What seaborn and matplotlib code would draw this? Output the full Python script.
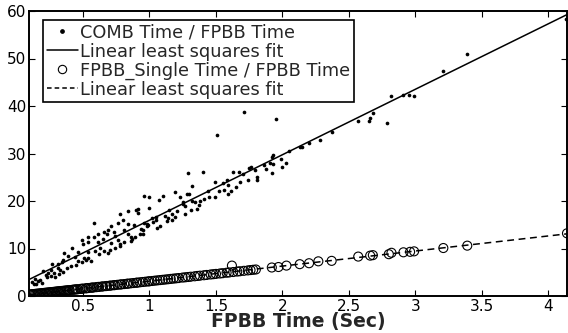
import numpy as np
import pandas as pd
import matplotlib
matplotlib.use("Agg")
import matplotlib.pyplot as plt
import seaborn as sns
from matplotlib.lines import Line2D

sns.set_style("ticks")
plt.rcParams['font.family'] = ['DejaVu Sans']

# ---------------------------------------------------------------------------
# Data (FPBB time in sec vs. time ratios)
# ---------------------------------------------------------------------------

comb_x = [
    4.13, 3.39, 3.21, 2.82, 2.91, 2.95, 2.99, 2.79, 1.95, 2.57, 2.65, 2.66,
    2.68, 2.37, 2.28, 2.20, 2.15, 2.13, 2.05, 1.93, 1.92, 1.91, 1.93, 1.99,
    2.03, 2.00, 1.92, 1.79, 1.81, 1.76, 1.71, 1.51, 1.29, 1.40, 1.32, 1.63,
    1.67, 1.75, 1.81, 1.74, 1.00, 1.10, 1.07, 1.19, 1.23, 1.28, 1.30, 1.25,
    1.25, 1.32, 1.34, 1.38, 1.41, 1.44, 1.49, 1.49, 1.52, 1.55, 1.58, 1.59,
    1.61, 1.65, 1.59, 1.36, 1.31, 1.37, 1.00, 1.15, 1.21, 1.05, 1.12, 1.14,
    1.19, 1.05, 1.03, 0.98, 0.99, 1.02, 1.13, 0.94, 1.08,
    0.96, 0.78, 0.90, 0.91, 0.76, 0.80, 0.84, 0.88, 0.58, 0.96, 0.66, 0.68,
    0.73, 0.74, 0.81, 0.84, 0.76, 0.86, 0.71, 0.65, 0.58, 0.50, 0.54, 0.61,
    0.63, 0.59, 0.54, 0.51, 0.46, 0.42, 0.44, 0.39, 0.36, 0.35, 0.34, 0.31,
    0.31, 0.27, 0.26, 0.24, 0.20, 0.16, 0.19, 0.14, 0.15, 0.29, 0.26, 0.32,
    0.35, 0.38, 0.41, 0.46, 0.49, 0.54, 0.56, 0.66, 0.69, 0.74, 0.78, 0.81,
    0.86, 0.89, 0.93, 0.95, 0.98, 0.71, 0.69, 0.61, 0.54, 0.49, 0.84, 0.91,
    1.86, 1.88, 1.70, 1.17, 1.27, 0.12, 0.22,
    0.45, 0.52, 0.62, 0.70, 0.78, 0.87, 0.95, 1.06, 1.17, 1.27, 0.13, 0.18,
    0.23, 0.28, 0.33, 1.45, 1.56, 1.68,
]
comb_y = [
    58.3, 51.0, 47.4, 42.1, 42.4, 42.4, 42.1, 36.4, 37.3, 36.9, 36.9, 37.4,
    38.6, 34.5, 32.8, 32.3, 31.4, 31.3, 30.5, 29.7, 29.2, 27.9, 27.7, 28.8,
    28.1, 27.1, 26.0, 26.5, 25.1, 27.1, 38.7, 34.0, 25.8, 26.2, 23.2, 26.1,
    26.1, 27.0, 24.4, 24.4, 20.8, 21.1, 20.2, 21.8, 20.8, 21.4, 21.5, 19.8,
    19.4, 20.1, 19.8, 20.1, 20.4, 22.2, 24.0, 20.8, 22.2, 23.7, 24.4, 21.5,
    22.1, 22.9, 23.3, 18.3, 18.2, 19.1, 18.6, 18.2, 17.8, 16.7, 16.9, 16.5,
    16.7, 15.9, 15.5, 15.2, 15.0, 16.4, 15.7, 14.1, 14.8,
    21.0, 17.3, 18.2, 17.4, 15.3, 16.0, 15.2, 15.0, 15.4, 15.3, 13.4, 13.1,
    13.4, 12.7, 13.8, 13.1, 11.8, 12.4, 11.1, 12.0, 12.4, 11.0, 11.3, 11.3,
    10.2, 9.5, 9.2, 8.1, 9.2, 10.2, 8.3, 8.5, 9.0, 7.6, 7.1, 6.8,
    6.0, 6.8, 5.4, 4.9, 5.3, 3.2, 2.8, 3.5, 2.5, 4.0, 4.2, 4.6,
    5.1, 5.9, 6.4, 7.4, 7.1, 8.1, 7.4, 9.5, 9.0, 10.2, 10.6, 11.3,
    11.5, 12.5, 13.1, 13.9, 14.8, 14.8, 13.8, 13.1, 12.4, 11.7, 18.0, 18.4,
    27.5, 26.8, 25.6, 17.2, 18.9, 2.9, 4.4,
    6.5, 7.6, 8.8, 9.6, 10.9, 12.0, 13.0, 14.3, 15.9, 17.3, 2.6, 3.3,
    4.1, 4.8, 5.5, 20.9, 22.3, 24.0,
]

single_x = [
    0.10, 0.11, 0.12, 0.13, 0.14, 0.15, 0.16, 0.17, 0.18, 0.19, 0.20, 0.21,
    0.22, 0.23, 0.24, 0.25, 0.26, 0.27, 0.28, 0.29, 0.30, 0.31, 0.32, 0.33,
    0.34, 0.35, 0.36, 0.37, 0.38, 0.39, 0.40, 0.42, 0.43, 0.44, 0.45, 0.46,
    0.48, 0.49, 0.50, 0.52, 0.53, 0.54, 0.56, 0.57, 0.58, 0.60, 0.61, 0.62,
    0.64, 0.65, 0.67, 0.68, 0.70, 0.71, 0.73, 0.74, 0.76, 0.78, 0.79, 0.81,
    0.83, 0.84, 0.86, 0.88, 0.90, 0.91, 0.93, 0.95, 0.97, 0.99, 1.00, 1.02,
    1.04, 1.06, 1.08, 1.10, 1.12, 1.14, 1.16, 1.18, 1.20, 1.22, 1.25, 1.27,
    1.29, 1.31, 1.34, 1.36, 1.38, 1.41, 1.43, 1.46, 1.48, 1.50, 1.53, 1.55,
    1.58, 1.60, 1.62, 1.63, 1.66, 1.68, 1.71, 1.74, 1.76, 1.78, 1.80,
    1.92, 1.97, 2.03, 2.13, 2.20, 2.27, 2.37, 2.57, 2.66, 2.68, 2.80, 2.82,
    2.91, 2.96, 2.99, 3.21, 3.39, 4.14,
]
single_y = [
    0.30, 0.35, 0.38, 0.40, 0.44, 0.47, 0.50, 0.52, 0.56, 0.60, 0.62, 0.66,
    0.68, 0.72, 0.74, 0.78, 0.80, 0.84, 0.87, 0.90, 0.93, 0.97, 1.00, 1.02,
    1.06, 1.08, 1.12, 1.15, 1.18, 1.21, 1.24, 1.30, 1.34, 1.37, 1.40, 1.42,
    1.49, 1.52, 1.56, 1.61, 1.65, 1.68, 1.74, 1.77, 1.80, 1.86, 1.90, 1.92,
    1.99, 2.02, 2.08, 2.11, 2.17, 2.20, 2.27, 2.30, 2.36, 2.42, 2.45, 2.51,
    2.58, 2.60, 2.67, 2.73, 2.79, 2.82, 2.89, 2.95, 3.01, 3.07, 3.10, 3.16,
    3.23, 3.29, 3.35, 3.41, 3.47, 3.53, 3.60, 3.66, 3.72, 3.78, 3.88, 3.94,
    4.00, 4.06, 4.15, 4.22, 4.28, 4.37, 4.43, 4.53, 4.59, 4.65, 4.74, 4.80,
    4.90, 4.96, 6.40, 5.05, 5.15, 5.21, 5.30, 5.39, 5.46, 5.52, 5.58,
    6.0, 6.1, 6.4, 6.7, 6.9, 7.3, 7.4, 8.3, 8.5, 8.6, 8.8, 9.1,
    9.2, 9.3, 9.4, 10.1, 10.6, 13.2,
]

x_ticks = [0.5, 1, 1.5, 2, 2.5, 3, 3.5, 4]
x_tick_labels = ['0.5', '1', '1.5', '2', '2.5', '3', '3.5', '4']
y_ticks = [0, 10, 20, 30, 40, 50, 60]

comb = pd.DataFrame({'fpbb': comb_x, 'ratio': comb_y})
single = pd.DataFrame({'fpbb': single_x, 'ratio': single_y})

# ---------------------------------------------------------------------------
# Plot
# ---------------------------------------------------------------------------

fig = plt.figure(figsize=(5.68, 3.33), dpi=100)
ax = fig.add_axes([29 / 568, 37 / 333, 538 / 568, 285 / 333])
ax.set_xlim(0.094, 4.14)
ax.set_ylim(0, 60)

sns.scatterplot(data=comb, x='fpbb', y='ratio', ax=ax, color='black',
                marker='o', s=7, edgecolor='black', linewidth=0, zorder=3)
sns.regplot(data=comb, x='fpbb', y='ratio', ax=ax, scatter=False, ci=None,
            truncate=False, line_kws={'color': 'black', 'lw': 1.1, 'zorder': 4})
sns.scatterplot(data=single, x='fpbb', y='ratio', ax=ax, marker='o', s=42,
                facecolor='none', edgecolor='black', linewidth=0.8, zorder=3)
sns.regplot(data=single, x='fpbb', y='ratio', ax=ax, scatter=False, ci=None,
            truncate=False, line_kws={'color': 'black', 'lw': 1.1, 'ls': (0, (4.5, 3)),
                                      'zorder': 4})

ax.set_xlim(0.094, 4.14)
ax.set_ylim(0, 60)
ax.set_xticks(x_ticks)
ax.set_xticklabels(x_tick_labels)
ax.set_yticks(y_ticks)
ax.tick_params(direction='in', length=4, width=0.8, top=True, right=True,
               labelsize=11, pad=2, colors='black')
ax.set_xlabel('FPBB Time (Sec)', fontsize=13.5, fontweight='bold', labelpad=-1)
ax.set_ylabel('')
for sp in ax.spines.values():
    sp.set_visible(True)
    sp.set_linewidth(1.4)
    sp.set_color('black')

handles = [
    Line2D([], [], ls='none', marker='o', ms=2.4, color='black'),
    Line2D([], [], color='black', lw=1.1),
    Line2D([], [], ls='none', marker='o', ms=6, mfc='none', mec='black', mew=0.8),
    Line2D([], [], color='black', lw=1.1, ls=(0, (3, 2))),
]
labels = ['COMB Time / FPBB Time', 'Linear least squares fit',
          'FPBB_Single Time / FPBB Time', 'Linear least squares fit']
leg = ax.legend(handles, labels, loc='upper left', bbox_to_anchor=(0.026, 0.968),
                fontsize=12.8, frameon=True, fancybox=False, framealpha=1,
                edgecolor='black', borderpad=0.2, labelspacing=0.05,
                handlelength=1.75, handletextpad=0.15, borderaxespad=0)
leg.get_frame().set_linewidth(1.2)

fig.savefig('out.png', dpi=100)
